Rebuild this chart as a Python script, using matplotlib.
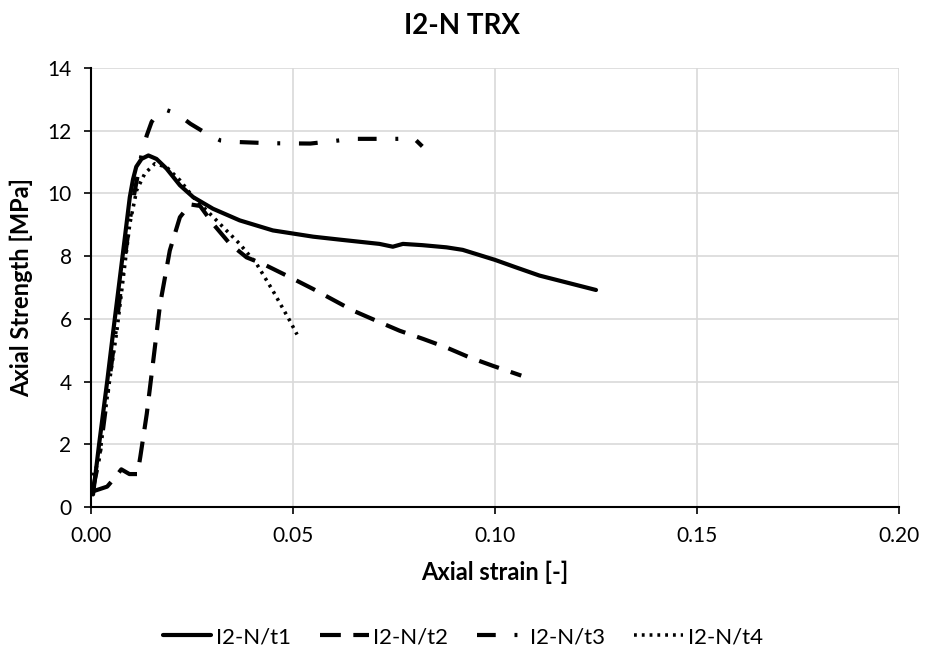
import matplotlib.pyplot as plt

plt.rcParams['font.family'] = ['Lato', 'DejaVu Sans']

# axial strain / axial strength readings for each test
strain_t1 = [0.0005, 0.002, 0.004, 0.0055, 0.008, 0.0096, 0.0104, 0.0112, 0.0125, 0.0142,
             0.0162, 0.0187, 0.022, 0.0253, 0.0302, 0.0368, 0.045, 0.05, 0.055, 0.062,
             0.0714, 0.0747, 0.0772, 0.082, 0.088, 0.092, 0.1, 0.105, 0.111, 0.118, 0.125]
stress_t1 = [0.4, 2.0, 4.0, 5.6, 8.2, 9.88, 10.45, 10.85, 11.1, 11.21,
             11.1, 10.79, 10.26, 9.88, 9.51, 9.14, 8.82, 8.72, 8.62, 8.52,
             8.39, 8.30, 8.39, 8.35, 8.28, 8.2, 7.88, 7.65, 7.38, 7.15, 6.92]

strain_t2 = [0.0005, 0.004, 0.006, 0.0075, 0.0095, 0.0115, 0.0122, 0.0138, 0.0154, 0.0171,
             0.0183, 0.0195, 0.022, 0.0245, 0.027, 0.0302, 0.0344, 0.0385, 0.0426, 0.0492,
             0.055, 0.0649, 0.0706, 0.0764, 0.0822, 0.0879, 0.0937, 0.0995, 0.1065]
stress_t2 = [0.5, 0.65, 0.95, 1.2, 1.05, 1.05, 1.6, 2.97, 4.66, 6.47,
             7.32, 8.18, 9.24, 9.65, 9.6, 9.03, 8.39, 7.96, 7.75, 7.33,
             6.95, 6.26, 5.94, 5.62, 5.36, 5.09, 4.77, 4.5, 4.19]

strain_t3 = [0.0005, 0.002, 0.004, 0.006, 0.008, 0.010, 0.0126, 0.0138, 0.015, 0.0165,
             0.0184, 0.0213, 0.0246, 0.0287, 0.032, 0.0361, 0.0444, 0.0543, 0.06, 0.065,
             0.0758, 0.08, 0.082]
stress_t3 = [0.6, 1.5, 3.5, 5.5, 7.6, 9.5, 11.3, 11.85, 12.28, 12.55,
             12.67, 12.54, 12.22, 11.9, 11.69, 11.64, 11.6, 11.59, 11.67, 11.74,
             11.74, 11.75, 11.5]

strain_t4 = [0.0005, 0.002, 0.004, 0.0064, 0.008, 0.0096, 0.0113, 0.0133, 0.0158, 0.0187,
             0.022, 0.0253, 0.0286, 0.0319, 0.0368, 0.041, 0.045, 0.0492, 0.051]
stress_t4 = [1.0, 1.5, 3.5, 5.62, 7.33, 9.03, 10.1, 10.63, 10.95, 10.84,
             10.42, 9.88, 9.46, 9.03, 8.39, 7.75, 6.9, 5.94, 5.5]

labels = ["I2-N/t1", "I2-N/t2", "I2-N/t3", "I2-N/t4"]

fig = plt.figure(figsize=(9.25, 6.53), dpi=100)
ax = fig.add_axes([0.0984, 0.2236, 0.8735, 0.6723])

lw = 3.0
ax.plot(strain_t1, stress_t1, color='black', lw=lw, label=labels[0], solid_capstyle='round')
ax.plot(strain_t2, stress_t2, color='black', lw=lw, label=labels[1], linestyle=(0, (5, 3)))
ax.plot(strain_t3, stress_t3, color='black', lw=lw, label=labels[2],
        linestyle=(0, (4.5, 4.5, 0.7, 4.5)))
ax.plot(strain_t4, stress_t4, color='black', lw=lw * 0.85, label=labels[3],
        linestyle=(0, (0.8, 1.4)))

ax.set_xlim(0, 0.2)
ax.set_ylim(0, 14)
ax.set_xticks([0, 0.05, 0.10, 0.15, 0.20])
ax.set_xticklabels(["0.00", "0.05", "0.10", "0.15", "0.20"])
ax.set_yticks(range(0, 15, 2))
ax.grid(True, color='#d9d9d9', lw=1.2)
ax.set_axisbelow(True)
for s in ['top', 'right']:
    ax.spines[s].set_visible(False)
for s in ['left', 'bottom']:
    ax.spines[s].set_linewidth(1.5)
ax.tick_params(direction='out', length=5, width=1.2, labelsize=15, pad=9)

ax.set_xlabel("Axial strain [-]", fontsize=17, fontweight='bold', labelpad=10)
ax.set_ylabel("Axial Strength [MPa]", fontsize=17, fontweight='bold', labelpad=10)
fig.text(0.5, 0.96, "I2-N TRX", ha='center', va='center', fontsize=20, fontweight='bold')

fig.legend(loc='center', bbox_to_anchor=(0.5, 0.0245), ncol=4, frameon=False,
           fontsize=16, handlelength=2.2, handletextpad=0.2, columnspacing=1.3)

plt.savefig("out.png", dpi=100)
